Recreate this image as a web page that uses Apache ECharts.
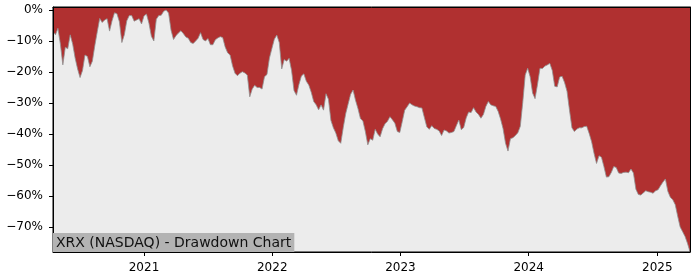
<!DOCTYPE html>
<html><head><meta charset="utf-8">
<script src="https://cdn.jsdelivr.net/npm/echarts@6/dist/echarts.min.js"></script>
<style>html,body{margin:0;padding:0;background:#fff}#c{width:700px;height:280px}</style>
</head><body><div id="c"></div>
<script>
const chartTitle = 'XRX (NASDAQ) - Drawdown Chart';
const dates = [
'2020-04-17','2020-04-24','2020-05-01','2020-05-08','2020-05-15','2020-05-22','2020-05-29',
'2020-06-05','2020-06-12','2020-06-19','2020-06-26','2020-07-03','2020-07-10','2020-07-17','2020-07-24','2020-07-31',
'2020-08-07','2020-08-14','2020-08-21','2020-08-28','2020-09-04','2020-09-11','2020-09-18','2020-09-25',
'2020-10-02','2020-10-09','2020-10-16','2020-10-23','2020-10-30','2020-11-06','2020-11-13','2020-11-20','2020-11-27',
'2020-12-04','2020-12-11','2020-12-18','2020-12-25',
'2021-01-01','2021-01-08','2021-01-15','2021-01-22','2021-01-29','2021-02-05','2021-02-12','2021-02-19','2021-02-26',
'2021-03-05','2021-03-12','2021-03-19','2021-03-26','2021-04-02','2021-04-09','2021-04-16','2021-04-23','2021-04-30',
'2021-05-07','2021-05-14','2021-05-21','2021-05-28','2021-06-04','2021-06-11','2021-06-18','2021-06-25',
'2021-07-02','2021-07-09','2021-07-16','2021-07-23','2021-07-30','2021-08-06','2021-08-13','2021-08-20','2021-08-27',
'2021-09-03','2021-09-10','2021-09-17','2021-09-24','2021-10-01','2021-10-08','2021-10-15','2021-10-22','2021-10-29',
'2021-11-05','2021-11-12','2021-11-19','2021-11-26','2021-12-03','2021-12-10','2021-12-17','2021-12-24','2021-12-31',
'2022-01-07','2022-01-14','2022-01-21','2022-01-28','2022-02-04','2022-02-11','2022-02-18','2022-02-25',
'2022-03-04','2022-03-11','2022-03-18','2022-03-25','2022-04-01','2022-04-08','2022-04-15','2022-04-22','2022-04-29',
'2022-05-06','2022-05-13','2022-05-20','2022-05-27','2022-06-03','2022-06-10','2022-06-17','2022-06-24',
'2022-07-01','2022-07-08','2022-07-15','2022-07-22','2022-07-29','2022-08-05','2022-08-12','2022-08-19','2022-08-26',
'2022-09-02','2022-09-09','2022-09-16','2022-09-23','2022-09-30','2022-10-07','2022-10-14','2022-10-21','2022-10-28',
'2022-11-04','2022-11-11','2022-11-18','2022-11-25','2022-12-02','2022-12-09','2022-12-16','2022-12-23','2022-12-30',
'2023-01-06','2023-01-13','2023-01-20','2023-01-27','2023-02-03','2023-02-10','2023-02-17','2023-02-24',
'2023-03-03','2023-03-10','2023-03-17','2023-03-24','2023-03-31','2023-04-07','2023-04-14','2023-04-21','2023-04-28',
'2023-05-05','2023-05-12','2023-05-19','2023-05-26','2023-06-02','2023-06-09','2023-06-16','2023-06-23','2023-06-30',
'2023-07-07','2023-07-14','2023-07-21','2023-07-28','2023-08-04','2023-08-11','2023-08-18','2023-08-25',
'2023-09-01','2023-09-08','2023-09-15','2023-09-22','2023-09-29','2023-10-06','2023-10-13','2023-10-20','2023-10-27',
'2023-11-03','2023-11-10','2023-11-17','2023-11-24','2023-12-01','2023-12-08','2023-12-15','2023-12-22','2023-12-29',
'2024-01-05','2024-01-12','2024-01-19','2024-01-26','2024-02-02','2024-02-09','2024-02-16','2024-02-23',
'2024-03-01','2024-03-08','2024-03-15','2024-03-22','2024-03-29','2024-04-05','2024-04-12','2024-04-19','2024-04-26',
'2024-05-03','2024-05-10','2024-05-17','2024-05-24','2024-05-31','2024-06-07','2024-06-14','2024-06-21','2024-06-28',
'2024-07-05','2024-07-12','2024-07-19','2024-07-26','2024-08-02','2024-08-09','2024-08-16','2024-08-23','2024-08-30',
'2024-09-06','2024-09-13','2024-09-20','2024-09-27','2024-10-04','2024-10-11','2024-10-18','2024-10-25',
'2024-11-01','2024-11-08','2024-11-15','2024-11-22','2024-11-29','2024-12-06','2024-12-13','2024-12-20','2024-12-27',
'2025-01-03','2025-01-10','2025-01-17','2025-01-24','2025-01-31','2025-02-07','2025-02-14','2025-02-21','2025-02-28',
'2025-03-07','2025-03-14','2025-03-21','2025-03-28','2025-04-04'
];
const drawdown = [
-7,-8,-5.9,-11,-17.7,-12,-12.5,-8,-11,-15.5,
-19,-21.8,-19.5,-14.5,-15,-18.3,-16.5,-11.5,-7,-2.7,
-4,-3.2,-2.8,-6.8,-3.5,-0.9,-1.2,-3.8,-10.5,-8,
-3.5,-1.8,-1.8,-3.6,-3.2,-2.8,-4.5,-1.9,-1.3,-4.2,
-8.5,-10,-3,-1.8,-1.7,-0.4,0,-1,-6.5,-9.5,
-8.3,-7.4,-6.7,-7.6,-8.7,-9.1,-10.5,-10.8,-10,-9.1,
-7.3,-9.5,-10,-9.2,-11.2,-11.2,-9.6,-9,-8.6,-8.9,
-11.9,-13.8,-14.5,-18,-20.4,-21.2,-20.4,-19.9,-20.3,-21,
-28,-25.5,-24.3,-25,-25,-25.5,-21.5,-20.8,-15.5,-12.4,
-9.4,-8.1,-10.5,-19,-16,-16.5,-15.6,-19.5,-26,-27.5,
-24,-21.3,-20.6,-23,-24.2,-26.5,-29.5,-30.6,-32.2,-30.6,
-32.3,-27,-28.8,-35.6,-38,-39.7,-42.2,-43,-38,-33.5,
-30.3,-27.2,-25.8,-29.1,-31.8,-35,-35.8,-39.2,-43.5,-41.5,
-42,-38.5,-40,-40.9,-38.3,-36.7,-35.9,-34.4,-35.4,-36.5,
-39.2,-39.5,-36,-32.3,-31.2,-30,-30.6,-31,-31.2,-31.5,
-31.6,-34.7,-37.7,-38.5,-37.3,-38.2,-38.5,-39,-40.5,-38.7,
-39,-39.7,-39.5,-39.2,-37.3,-35.5,-38.6,-37.9,-34.8,-32.9,
-33.1,-31.5,-32.9,-33.7,-34.9,-33.7,-31.1,-29.5,-30.6,-30.9,
-31.1,-32.7,-35.2,-38.3,-43,-45.5,-41.5,-41.2,-40.5,-39.6,
-37.5,-29.8,-21,-18.8,-21.5,-26.8,-28.6,-24,-18.8,-18.9,
-18.1,-17.7,-17.2,-19.5,-24.6,-24.8,-21.6,-21.4,-23.4,-26.2,
-32.3,-38,-39.2,-38.4,-38,-38,-37.6,-37.5,-39.8,-42.5,
-46.3,-49.5,-47,-47.5,-50.5,-53.9,-53.8,-52.4,-50.5,-50.8,
-52.6,-52.7,-52.4,-52.3,-52.5,-51.3,-52.6,-57.8,-59.5,-59.7,
-59,-58.3,-58.6,-58.8,-59.1,-58.3,-58,-56.7,-55.5,-54.5,
-58.5,-60.4,-61.2,-62.8,-66.5,-70,-71.5,-73.1,-75.3,-78
];
const yearTicks = ['2021-01-01','2022-01-01','2023-01-01','2024-01-01','2025-01-01'];
const yearLabels = ['2021','2022','2023','2024','2025'];
const pctTicks = [0,-10,-20,-30,-40,-50,-60,-70];
const yMin = -78.06, yMax = 0.97;

const toTs = s => +echarts.number.parseDate(s);
const dateTs = dates.map(toTs);
const yearTs = yearTicks.map(toTs);
const font = 'DejaVu Sans';
const xMin = dateTs[0], xMax = dateTs[dateTs.length - 1];
const chart = echarts.init(document.getElementById('c'), null, {renderer: 'canvas'});
chart.setOption({
  animation: false,
  backgroundColor: '#ffffff',
  title: {
    text: chartTitle, left: 53, bottom: 28, padding: [3, 3, 2, 3],
    backgroundColor: '#b3b3b3', z: 20,
    textStyle: {fontFamily: font, fontSize: 14, fontWeight: 'normal', color: '#111', lineHeight: 14}
  },
  grid: {left: 53, right: 10, top: 7, bottom: 28, show: true, backgroundColor: '#ececec', borderColor: '#000', borderWidth: 1},
  xAxis: [{
    type: 'value', min: xMin, max: xMax, z: 10,
    axisLine: {show: true, onZero: false, lineStyle: {color: '#000', width: 1}},
    axisTick: {show: true, length: 4, lineStyle: {color: '#000'}, customValues: yearTs},
    axisLabel: {customValues: yearTs, margin: 10, fontFamily: font, fontSize: 12, color: '#000',
      formatter: v => { const i = yearTs.indexOf(v); return i >= 0 ? yearLabels[i] : ''; }},
    splitLine: {show: false}
  }, {
    type: 'value', position: 'top', min: xMin, max: xMax, z: 10,
    axisLine: {show: true, onZero: false, lineStyle: {color: '#000', width: 1}},
    axisTick: {show: false}, axisLabel: {show: false}, splitLine: {show: false}
  }],
  yAxis: [{
    type: 'value', min: yMin, max: yMax, z: 10,
    axisLine: {show: true, onZero: false, lineStyle: {color: '#000', width: 1}},
    axisTick: {show: true, length: 4, lineStyle: {color: '#000'}, customValues: pctTicks},
    axisLabel: {customValues: pctTicks, margin: 10, fontFamily: font, fontSize: 12, color: '#000',
      formatter: v => (v < 0 ? '\u2212' + Math.abs(v) : String(v)) + '%'},
    splitLine: {show: false}
  }, {
    type: 'value', position: 'right', min: yMin, max: yMax, z: 10,
    axisLine: {show: true, onZero: false, lineStyle: {color: '#000', width: 1}},
    axisTick: {show: false}, axisLabel: {show: false}, splitLine: {show: false}
  }],
  series: [{
    type: 'line', xAxisIndex: 0, yAxisIndex: 0,
    data: dateTs.map((t, i) => [t, drawdown[i]]),
    showSymbol: false, symbol: 'none',
    lineStyle: {color: '#909090', width: 0.8},
    areaStyle: {color: '#b03030', opacity: 1, origin: 'end'},
    z: 2
  }]
});
</script></body></html>
